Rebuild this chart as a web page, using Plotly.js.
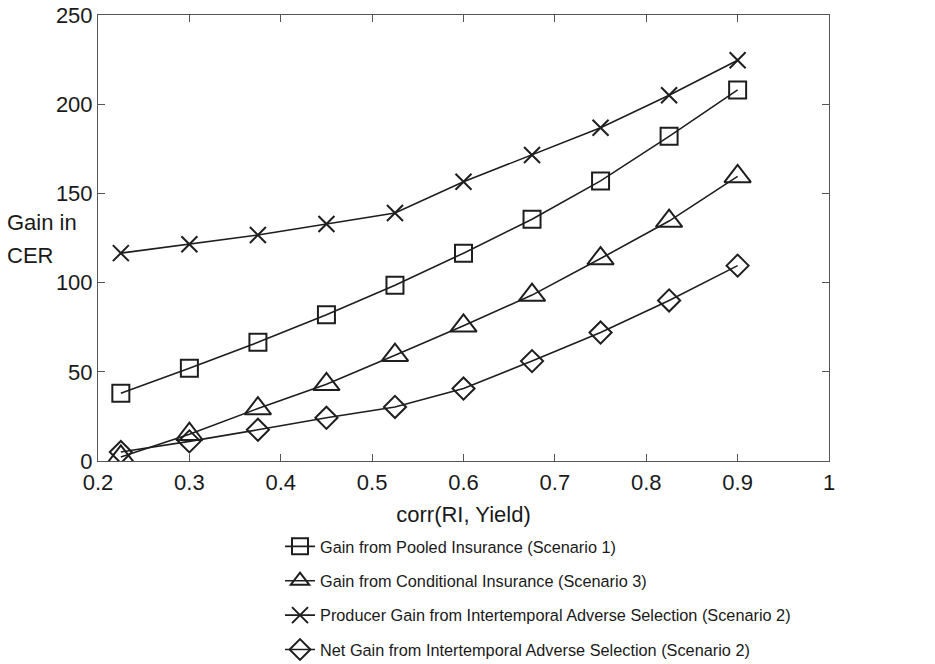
<!DOCTYPE html>
<html>
<head>
<meta charset="utf-8">
<script src="https://cdn.plot.ly/plotly-3.0.1.min.js"></script>
<style>html,body{margin:0;padding:0;background:#fff;}#chart{width:935px;height:664px;}</style>
</head>
<body>
<div id="chart"></div>
<script>
const corr = [0.225, 0.3, 0.375, 0.45, 0.525, 0.6, 0.675, 0.75, 0.825, 0.9];
const pooled = [38, 52, 66.5, 82, 98.5, 116.5, 135.5, 157, 182, 208];
const conditional = [2.3, 15, 29.4, 43, 59.3, 75.8, 93, 113.5, 134.5, 159.5];
const producer = [116.5, 121.5, 126.7, 132.8, 139, 156.5, 171.5, 186.8, 205, 224.6];
const netGain = [5, 11, 17.5, 24.2, 30.3, 40.6, 56, 72, 90, 109.5];
const names = [
  'Gain from Pooled Insurance (Scenario 1)',
  'Gain from Conditional Insurance (Scenario 3)',
  'Producer Gain from Intertemporal Adverse Selection (Scenario 2)',
  'Net Gain from Intertemporal Adverse Selection (Scenario 2)'
];
const xTicks = [0.2, 0.3, 0.4, 0.5, 0.6, 0.7, 0.8, 0.9, 1];
const xTickText = ['0.2', '0.3', '0.4', '0.5', '0.6', '0.7', '0.8', '0.9', '1'];
const yTicks = [0, 50, 100, 150, 200, 250];

const ink = '#1e1e1e';
function tr(y, name, symbol, size, grp) {
  return {
    x: corr, y: y, name: name, type: 'scatter', mode: 'lines+markers',
    legendgroup: grp,
    line: {color: ink, width: 1.6},
    marker: {symbol: symbol, size: size, color: ink, line: {color: ink, width: 2}}
  };
}
const data = [
  tr(pooled, names[0], 'square-open', 17, 'a'),
  tr(conditional, names[1], 'triangle-up-open', 23, 'b'),
  tr(producer, names[2], 'x-thin-open', 16, 'c'),
  tr(netGain, names[3], 'diamond-open', 17, 'd')
];
const axisCommon = {
  showgrid: false, zeroline: false, showline: true, linecolor: '#555', linewidth: 1,
  mirror: 'ticks', ticks: 'inside', ticklen: 7, tickcolor: '#555', tickwidth: 1,
  tickfont: {family: 'Liberation Sans, Arial, sans-serif', size: 22, color: '#1a1a1a'}
};
const layout = {
  width: 935, height: 664,
  margin: {l: 98, r: 106, t: 15, b: 203, autoexpand: false},
  paper_bgcolor: '#fff', plot_bgcolor: '#fff',
  font: {family: 'Liberation Sans, Arial, sans-serif', color: '#1a1a1a'},
  xaxis: Object.assign({}, axisCommon, {
    range: [0.2, 1], tickmode: 'array', tickvals: xTicks, ticktext: xTickText,
    ticklabelstandoff: 2,
    title: {text: 'corr(RI, Yield)', font: {size: 22, color: '#1a1a1a'}, standoff: 12}
  }),
  yaxis: Object.assign({}, axisCommon, {
    range: [0, 250], tickmode: 'array', tickvals: yTicks
  }),
  annotations: [
    {text: 'Gain in', xref: 'paper', yref: 'paper', x: -0.127, y: (461 - 222) / 446,
     xanchor: 'left', yanchor: 'middle', showarrow: false, align: 'left',
     font: {size: 22, color: '#1a1a1a'}},
    {text: 'CER', xref: 'paper', yref: 'paper', x: -0.127, y: (461 - 255) / 446,
     xanchor: 'left', yanchor: 'middle', showarrow: false, align: 'left',
     font: {size: 22, color: '#1a1a1a'}}
  ],
  showlegend: true,
  legend: {
    x: 0.249, y: -0.153, xanchor: 'left', yanchor: 'top',
    traceorder: 'grouped', tracegroupgap: 10.2,
    bgcolor: 'rgba(0,0,0,0)', borderwidth: 0,
    font: {size: 16.3, color: '#1a1a1a'}
  }
};
Plotly.newPlot('chart', data, layout, {displayModeBar: false, staticPlot: true});
</script>
</body>
</html>
